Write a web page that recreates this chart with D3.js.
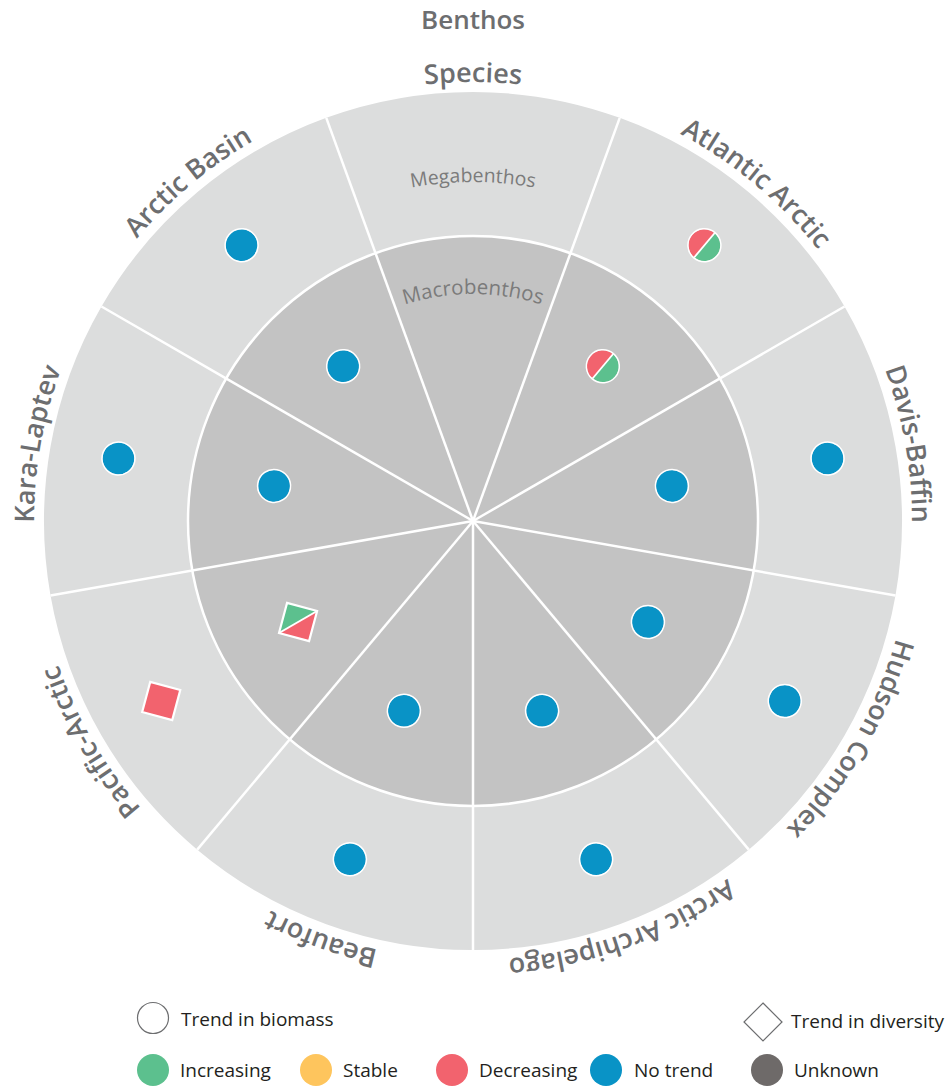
<!DOCTYPE html>
<html lang="en">
<head>
    <meta charset="UTF-8">
    <title>Benthos</title>
    <style>
        body { margin: 0; background: #fff; }
        svg { display: block; font-family: "Open Sans", sans-serif; }
    </style>
</head>
<body>
<script src="https://cdnjs.cloudflare.com/ajax/libs/d3/7.8.5/d3.min.js"></script>
<script>
    // Sectors, clockwise from the top
    const regions = ["Species", "Atlantic Arctic", "Davis-Baffin", "Hudson Complex", "Arctic Archipelago",
        "Beaufort", "Pacific-Arctic", "Kara-Laptev", "Arctic Basin"];

    // Outer ring = megabenthos, inner ring = macrobenthos
    // shape: circle = trend in biomass, diamond = trend in diversity
    // trend: one status, or two (counter-clockwise half, clockwise half)
    const megaShape = [null, "circle", "circle", "circle", "circle", "circle", "diamond", "circle", "circle"];
    const megaTrend = [[], ["Decreasing", "Increasing"], ["No trend"], ["No trend"], ["No trend"],
        ["No trend"], ["Decreasing"], ["No trend"], ["No trend"]];
    const macroShape = [null, "circle", "circle", "circle", "circle", "circle", "diamond", "circle", "circle"];
    const macroTrend = [[], ["Decreasing", "Increasing"], ["No trend"], ["No trend"], ["No trend"],
        ["No trend"], ["Decreasing", "Increasing"], ["No trend"], ["No trend"]];

    const trends = ["Increasing", "Stable", "Decreasing", "No trend", "Unknown"];
    const trendColors = ["#5cc08e", "#fec55d", "#f2636e", "#0993c6", "#6e6a69"];

    const width = 951, height = 1086;
    const cx = 473, cy = 521;
    const rOuter = 429, rInner = 285, rLabel = 439;
    const rMegaMark = 360, rMacroMark = 202;
    const grey = "#6d6e70";

    const color = d3.scaleOrdinal().domain(trends).range(trendColors);
    const angle = d3.scaleBand().domain(regions).range([-Math.PI / 9, 2 * Math.PI - Math.PI / 9]);

    const svg = d3.select("body").append("svg")
        .attr("width", width)
        .attr("height", height);

    svg.append("text")
        .attr("x", cx).attr("y", 29)
        .attr("text-anchor", "middle")
        .attr("font-size", 26).attr("font-weight", 600)
        .attr("fill", grey)
        .text("Benthos");

    const g = svg.append("g").attr("transform", "translate(" + cx + "," + cy + ")");

    // Rings
    const outerArc = d3.arc().innerRadius(rInner).outerRadius(rOuter);
    const innerArc = d3.arc().innerRadius(0).outerRadius(rInner);

    g.selectAll(".outer")
        .data(regions)
        .enter().append("path")
        .attr("fill", "#dcdddd")
        .attr("d", d => outerArc({startAngle: angle(d), endAngle: angle(d) + angle.bandwidth()}));

    g.selectAll(".inner")
        .data(regions)
        .enter().append("path")
        .attr("fill", "#c3c3c3")
        .attr("d", d => innerArc({startAngle: angle(d), endAngle: angle(d) + angle.bandwidth()}));

    // White separators
    g.append("circle")
        .attr("r", rInner)
        .attr("fill", "none")
        .attr("stroke", "#fff")
        .attr("stroke-width", 2.5);

    g.selectAll(".spoke")
        .data(regions)
        .enter().append("line")
        .attr("x1", 0).attr("y1", 0)
        .attr("x2", d => rOuter * Math.sin(angle(d)))
        .attr("y2", d => -rOuter * Math.cos(angle(d)))
        .attr("stroke", "#fff")
        .attr("stroke-width", 2.5);

    // curved label paths
    function arcPath(r, a0, a1) {
        return "M" + (r * Math.sin(a0)) + "," + (-r * Math.cos(a0)) +
            " A" + r + "," + r + " 0 0 1 " + (r * Math.sin(a1)) + "," + (-r * Math.cos(a1));
    }

    const defs = svg.append("defs");
    regions.forEach((d, i) => {
        const mid = angle(d) + angle.bandwidth() / 2;
        defs.append("path")
            .attr("id", "lab" + i)
            .attr("d", arcPath(rLabel, mid - 1, mid + 1));
    });
    const mid0 = angle(regions[0]) + angle.bandwidth() / 2;
    defs.append("path").attr("id", "megaPath").attr("d", arcPath(339, mid0 - 1, mid0 + 1));
    defs.append("path").attr("id", "macroPath").attr("d", arcPath(227, mid0 - 1.2, mid0 + 1.2));

    g.selectAll(".label")
        .data(regions)
        .enter().append("text")
        .attr("font-size", 27).attr("font-weight", 600)
        .attr("fill", grey)
        .append("textPath")
        .attr("href", (d, i) => "#lab" + i)
        .attr("startOffset", "50%")
        .attr("text-anchor", "middle")
        .text(d => d);

    g.append("text")
        .attr("font-size", 19.4).attr("fill", "#7b7b7b")
        .append("textPath")
        .attr("href", "#megaPath")
        .attr("startOffset", "50%")
        .attr("text-anchor", "middle")
        .text("Megabenthos");

    g.append("text")
        .attr("font-size", 20.5).attr("fill", "#7b7b7b")
        .append("textPath")
        .attr("href", "#macroPath")
        .attr("startOffset", "50%")
        .attr("text-anchor", "middle")
        .text("Macrobenthos");

    // Markers
    function drawMarker(parent, shape, trend) {
        if (shape === "circle") {
            const r = 16;
            if (trend.length === 1) {
                parent.append("circle").attr("r", r).attr("fill", color(trend[0]));
            } else {
                parent.append("path").attr("d", "M0," + (-r) + " A" + r + "," + r + " 0 0 0 0," + r + " Z")
                    .attr("fill", color(trend[0]));
                parent.append("path").attr("d", "M0," + (-r) + " A" + r + "," + r + " 0 0 1 0," + r + " Z")
                    .attr("fill", color(trend[1]));
                parent.append("line").attr("y1", -r).attr("y2", r)
                    .attr("stroke", "#fff").attr("stroke-width", 1.8);
            }
            parent.append("circle").attr("r", r + 0.5)
                .attr("fill", "none").attr("stroke", "#fff").attr("stroke-width", 1.5);
        } else {
            const s = 22;
            if (trend.length === 1) {
                parent.append("path").attr("d", "M0," + (-s) + "L" + s + ",0L0," + s + "L" + (-s) + ",0Z")
                    .attr("fill", color(trend[0]));
            } else {
                parent.append("path").attr("d", "M0," + (-s) + "L" + (-s) + ",0L0," + s + "Z")
                    .attr("fill", color(trend[0]));
                parent.append("path").attr("d", "M0," + (-s) + "L" + s + ",0L0," + s + "Z")
                    .attr("fill", color(trend[1]));
                parent.append("line").attr("y1", -s).attr("y2", s)
                    .attr("stroke", "#fff").attr("stroke-width", 2);
            }
            parent.append("path").attr("d", "M0," + (-s) + "L" + s + ",0L0," + s + "L" + (-s) + ",0Z")
                .attr("fill", "none").attr("stroke", "#fff").attr("stroke-width", 2.2)
                .attr("stroke-linejoin", "miter");
        }
    }

    function placeMarkers(shapes, trendList, r) {
        regions.forEach((d, i) => {
            if (!shapes[i]) return;
            const a = angle(d) + angle.bandwidth() / 2;
            const mg = g.append("g")
                .attr("transform", "translate(" + (r * Math.sin(a)) + "," + (-r * Math.cos(a)) + ") rotate(" + (a * 180 / Math.PI) + ")");
            drawMarker(mg, shapes[i], trendList[i]);
        });
    }

    placeMarkers(megaShape, megaTrend, rMegaMark);
    placeMarkers(macroShape, macroTrend, rMacroMark);

    // Legend
    const legend = svg.append("g").attr("font-size", 19).attr("fill", "#231f20");

    legend.append("circle")
        .attr("cx", 153).attr("cy", 1018).attr("r", 15.5)
        .attr("fill", "none").attr("stroke", grey).attr("stroke-width", 1.2);
    legend.append("text").attr("x", 181).attr("y", 1026).text("Trend in biomass");

    legend.append("path")
        .attr("d", "M763,1003 L782,1022 L763,1041 L744,1022 Z")
        .attr("fill", "none").attr("stroke", grey).attr("stroke-width", 1.2);
    legend.append("text").attr("x", 791).attr("y", 1028).text("Trend in diversity");

    const legendX = [153, 316, 452, 606, 767];
    const legendTextX = [180, 343, 479, 634, 794];
    trends.forEach((t, i) => {
        legend.append("circle")
            .attr("cx", legendX[i]).attr("cy", 1070).attr("r", 16)
            .attr("fill", color(t));
        legend.append("text")
            .attr("x", legendTextX[i]).attr("y", 1077)
            .text(t);
    });
</script>
</body>
</html>
